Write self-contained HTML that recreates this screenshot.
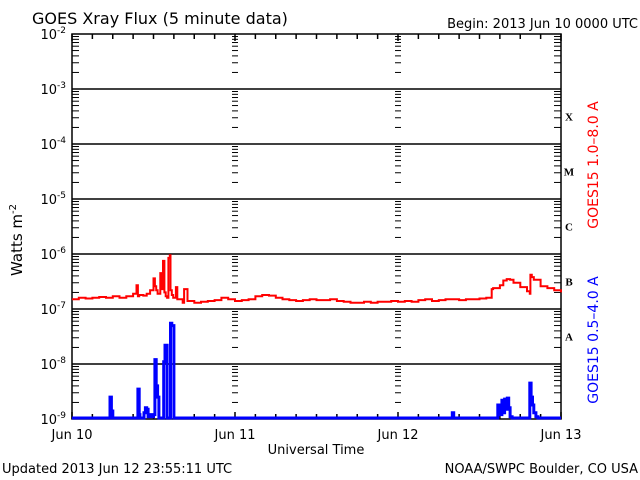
<!DOCTYPE html>
<html><head><meta charset="utf-8"><style>
html,body{margin:0;padding:0;background:#fff;}
svg{display:block;font-family:"DejaVu Sans","Liberation Sans",sans-serif;}
</style></head><body>
<svg id="chart" width="640" height="480" viewBox="0 0 640 480">
<rect width="640" height="480" fill="#fff"/>
<text x="32" y="24" font-size="16" fill="#000">GOES Xray Flux (5 minute data)</text>
<text x="638" y="28" font-size="13" text-anchor="end" fill="#000">Begin:  2013 Jun 10 0000 UTC</text>
<text transform="translate(22,240) rotate(-90)" font-size="15" text-anchor="middle" fill="#000">Watts m<tspan dy="-6" font-size="10">-2</tspan></text>
<text x="316" y="454" font-size="13" text-anchor="middle" fill="#000">Universal Time</text>
<text x="2" y="473" font-size="13" fill="#000">Updated 2013 Jun 12 23:55:11 UTC</text>
<text x="638" y="473" font-size="13" text-anchor="end" fill="#000">NOAA/SWPC Boulder, CO USA</text>
<text transform="translate(598,165) rotate(-90)" font-size="14" text-anchor="middle" fill="#ff0000">GOES15 1.0–8.0 A</text>
<text transform="translate(598,340) rotate(-90)" font-size="14" text-anchor="middle" fill="#0000ff">GOES15 0.5–4.0 A</text>
<g id="grid"></g>
<g id="series"></g>
</svg>
<script>
const decadeExps = [-2,-3,-4,-5,-6,-7,-8,-9];
const dayLabels = ["Jun 10","Jun 11","Jun 12","Jun 13"];
const classLabels = ["X","M","C","B","A"];
const classExps = [-4,-5,-6,-7,-8];
const redHours = [0,1,2,3,4,5,6,7,8,9,9.5,9.7,9.9,10.5,11,11.5,12,12.2,12.4,12.6,13,13.3,13.4,13.6,13.8,14,14.2,14.4,14.5,14.7,14.9,15.1,15.3,15.5,16,16.3,16.5,17,18,19,20,21,22,23,24,25,26,27,28,29,30,31,32,33,34,35,36,37,38,39,40,41,42,43,44,45,46,47,48,49,50,51,52,53,54,55,56,57,58,59,60,61,61.7,61.8,62,63,63.5,64,64.5,65,66,67,67.4,67.5,67.7,68,69,70,71,72];
const redFlux = [1.5e-7,1.6e-7,1.55e-7,1.6e-7,1.65e-7,1.6e-7,1.7e-7,1.6e-7,1.7e-7,1.9e-7,2.7e-7,1.7e-7,1.8e-7,1.75e-7,1.9e-7,2.2e-7,3.6e-7,2.6e-7,2.2e-7,1.9e-7,4.5e-7,2.3e-7,7.5e-7,2.0e-7,1.7e-7,1.6e-7,8.5e-7,9.5e-7,2.2e-7,1.8e-7,1.6e-7,1.6e-7,2.5e-7,1.5e-7,1.5e-7,1.3e-7,2.3e-7,1.4e-7,1.3e-7,1.35e-7,1.4e-7,1.45e-7,1.6e-7,1.5e-7,1.4e-7,1.45e-7,1.5e-7,1.7e-7,1.8e-7,1.75e-7,1.6e-7,1.5e-7,1.45e-7,1.4e-7,1.45e-7,1.5e-7,1.45e-7,1.45e-7,1.5e-7,1.4e-7,1.35e-7,1.3e-7,1.3e-7,1.35e-7,1.3e-7,1.35e-7,1.35e-7,1.4e-7,1.35e-7,1.4e-7,1.35e-7,1.45e-7,1.5e-7,1.4e-7,1.45e-7,1.5e-7,1.5e-7,1.45e-7,1.5e-7,1.5e-7,1.55e-7,1.6e-7,1.6e-7,2.3e-7,2.4e-7,2.7e-7,3.3e-7,3.5e-7,3.4e-7,3.0e-7,2.5e-7,2.1e-7,1.9e-7,4.2e-7,3.8e-7,3.4e-7,2.6e-7,2.4e-7,2.2e-7,2.0e-7,1.9e-7];
const blueHours = [0,5.5,5.6,5.8,6,9.5,9.7,9.9,10,10.6,10.8,11,11.2,11.4,11.6,12,12.2,12.4,12.6,12.8,13.4,13.5,13.7,14,14.3,14.5,14.7,15,20,40,55.9,56,56.2,56.5,62.5,62.7,62.9,63.3,63.5,63.7,64,64.1,64.3,64.5,64.8,65,65.5,67.3,67.4,67.6,67.8,68,68.3,68.6,72];
const blueFlux = [1e-9,1e-9,2.5e-9,1.4e-9,1e-9,1e-9,3.5e-9,1.2e-9,1e-9,1.3e-9,1.6e-9,1.5e-9,1.1e-9,1.2e-9,1.1e-9,1.2e-9,1.2e-8,4e-9,2.5e-9,1e-9,1e-9,1.1e-8,2.2e-8,1e-9,1e-9,5.5e-8,5e-8,1e-9,1e-9,1e-9,1e-9,1.3e-9,1e-9,1e-9,1e-9,1.8e-9,1.2e-9,2.2e-9,1.3e-9,2.3e-9,1.5e-9,2.4e-9,1.6e-9,1.1e-9,1e-9,1e-9,1e-9,1e-9,4.5e-9,2.5e-9,1.8e-9,1.3e-9,1.1e-9,1e-9,1e-9];

const X0=72, X1=561, Y0=34, DEC=55;
function xScale(h){ return X0 + (X1-X0)*h/72; }
function yScale(v){ return Y0 + (-2 - Math.log10(v))*DEC; }
const NS="http://www.w3.org/2000/svg";
const grid=document.getElementById('grid');
const series=document.getElementById('series');
function mk(tag,attrs,parent){const e=document.createElementNS(NS,tag);for(const k in attrs)e.setAttribute(k,attrs[k]);parent.appendChild(e);return e;}

// frame
const frame=mk('rect',{x:X0,y:Y0,width:X1-X0,height:7*DEC,fill:'none',stroke:'#000','stroke-width':1.5},grid);



decadeExps.forEach(function(e){
  const y=yScale(Math.pow(10,e));
  if(e!==-2 && e!==-9){
    const l=mk('line',{x1:X0,x2:X1,y1:y,y2:y,stroke:'#000','stroke-width':1.5},grid);
    
    
  }
  const t=mk('text',{x:66,y:y+5,'font-size':13,'text-anchor':'end',fill:'#000'},grid);
  
  
  t.textContent='10';
  const s=mk('tspan',{dy:-6,'font-size':9},t);
  s.textContent=String(e);
  if(e!==-9){
    for(let m=2;m<=9;m++){
      const yy=yScale(m*Math.pow(10,e-1));
      [[X0,X0+7],[X1-7,X1],[xScale(24)-3,xScale(24)+3],[xScale(48)-3,xScale(48)+3]].forEach(function(p){
        const tk=mk('line',{x1:p[0],x2:p[1],y1:yy,y2:yy,stroke:'#000','stroke-width':1},grid);
        
        
      });
    }
  }
});
for(let h=0;h<=72;h+=3){
  const x=xScale(h), len=(h%24===0)?7:5;
  const a=mk('line',{x1:x,x2:x,y1:Y0+7*DEC,y2:Y0+7*DEC-len,stroke:'#000','stroke-width':1.5},grid);
  
  
  const b=mk('line',{x1:x,x2:x,y1:Y0,y2:Y0+len,stroke:'#000','stroke-width':1.5},grid);
  
  
}
dayLabels.forEach(function(d,i){
  const t=mk('text',{x:xScale(i*24),y:439,'font-size':13,'text-anchor':'middle',fill:'#000'},grid);
  
  
  t.textContent=d;
});
classLabels.forEach(function(c,i){
  const y=(yScale(Math.pow(10,classExps[i]))+yScale(Math.pow(10,classExps[i]+1)))/2;
  const t=mk('text',{x:569,y:y+4,'font-size':11,'font-weight':'bold','font-family':'Liberation Serif, serif','text-anchor':'middle',fill:'#000'},grid);
  
  
  t.textContent=c;
});
function stepPath(hs,vs){
  let d='';
  for(let i=0;i<hs.length;i++){
    const x=xScale(hs[i]).toFixed(1), y=Math.min(yScale(vs[i]),Y0+7*DEC-1).toFixed(1);
    if(i===0) d+='M'+x+' '+y; else d+=' H'+x+' V'+y;
  }
  return d;
}
const red=mk('path',{d:stepPath(redHours,redFlux),fill:'none',stroke:'#ff0000','stroke-width':2},series);


const blue=mk('path',{d:stepPath(blueHours,blueFlux),fill:'none',stroke:'#0000ff','stroke-width':3},series);


</script>
</body></html>
